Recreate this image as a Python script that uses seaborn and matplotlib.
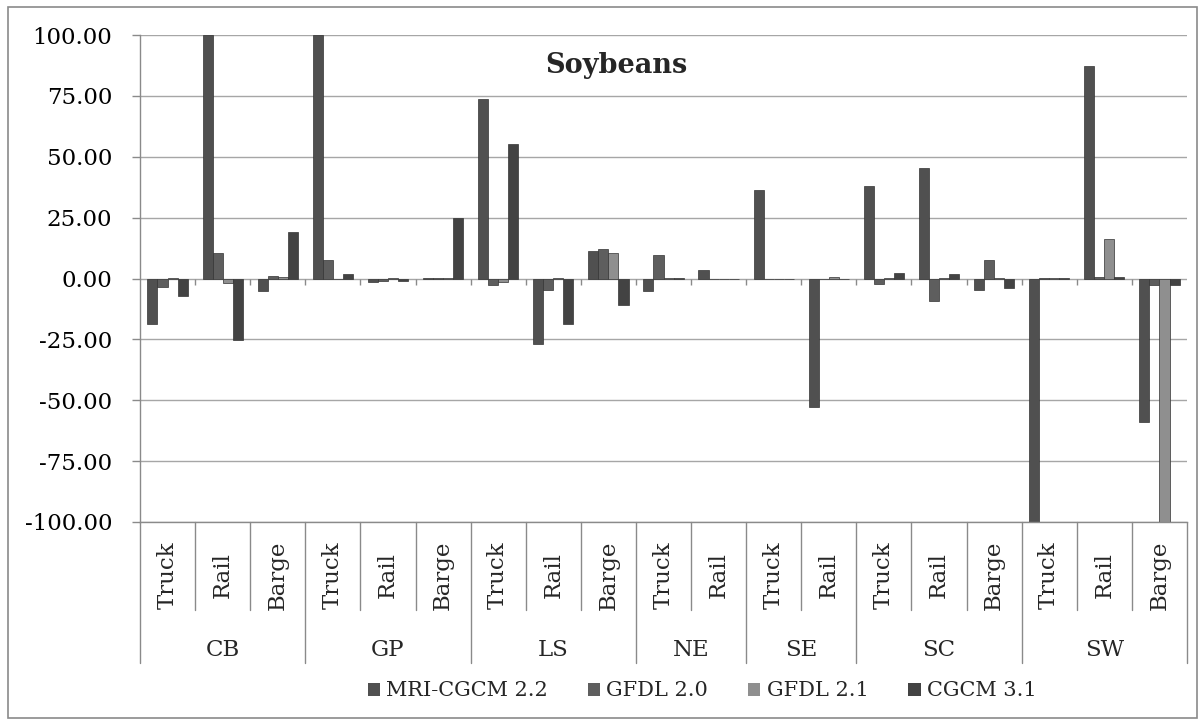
import numpy as np
import pandas as pd
import matplotlib.pyplot as plt
import matplotlib.transforms as mtransforms
from matplotlib.patches import Rectangle
from matplotlib.ticker import FuncFormatter
import seaborn as sns

# categories (two-level axis: region / mode)
region = ['CB', 'CB', 'CB', 'GP', 'GP', 'GP', 'LS', 'LS', 'LS', 'NE', 'NE',
          'SE', 'SE', 'SC', 'SC', 'SC', 'SW', 'SW', 'SW']
mode = ['Truck', 'Rail', 'Barge', 'Truck', 'Rail', 'Barge', 'Truck', 'Rail', 'Barge',
        'Truck', 'Rail', 'Truck', 'Rail', 'Truck', 'Rail', 'Barge', 'Truck', 'Rail', 'Barge']

# series values
mri = [-18.5, 100.0, -5.0, 100.0, -1.3, 0.3, 73.8, -26.8, 11.2, -5.3, 3.5,
       36.3, -52.8, 38.1, 45.2, -4.7, -100.0, 87.1, -58.8]
gfdl20 = [-3.5, 10.5, 1.0, 7.6, -1.2, 0.3, -2.5, -4.6, 12.0, 9.7, -0.3,
          -0.2, 0.0, -2.1, -9.2, 7.8, 0.2, 0.5, -2.5]
gfdl21 = [0.3, -1.8, 0.8, -0.3, 0.3, 0.1, -1.4, 0.2, 10.5, 0.4, -0.3,
          -0.2, 0.6, 0.1, 0.2, 0.1, 0.1, 16.2, -100.0]
cgcm = [-7.0, -25.4, 19.0, 1.7, -1.2, 24.7, 55.4, -18.8, -11.0, 0.3, -0.3,
        -0.2, -0.3, 2.1, 1.7, -3.7, 0.2, 0.5, -2.5]

series_names = ['MRI-CGCM 2.2', 'GFDL 2.0', 'GFDL 2.1', 'CGCM 3.1']
series_colors = ['#505050', '#5e5e5e', '#8f8f8f', '#434343']
yticks = [-100, -75, -50, -25, 0, 25, 50, 75, 100]

keys = [r + '-' + m for r, m in zip(region, mode)]
df = pd.DataFrame({
    'key': keys * 4,
    'model': np.repeat(series_names, len(keys)),
    'value': mri + gfdl20 + gfdl21 + cgcm,
})

sns.set_theme(style='white')
plt.rcParams['font.family'] = ['DejaVu Serif']
FS = 16.5
LINE = '#8a8a8a'

fig = plt.figure(figsize=(12.03, 7.25), dpi=100)
ax = fig.add_axes([140 / 1203, 1 - 522 / 725, 1047 / 1203, 487 / 725])

sns.barplot(data=df, x='key', y='value', hue='model', order=keys,
            hue_order=series_names, palette=series_colors, width=0.73,
            saturation=1, errorbar=None, edgecolor='#333333', linewidth=0.5,
            ax=ax, legend=False)

ax.set_ylim(-100, 100)
ax.set_xlim(-0.5, len(keys) - 0.5)
ax.set_yticks(yticks)
ax.yaxis.set_major_formatter(FuncFormatter(lambda v, p: f'{v:.2f}'))
ax.yaxis.grid(True, color='#a6a6a6', lw=1)
ax.set_axisbelow(True)
ax.set_xticks([])
ax.set_xlabel('')
ax.set_ylabel('')
ax.tick_params(axis='y', left=True, length=6, width=1, color=LINE, pad=14,
               labelsize=FS, labelcolor='black')
for s in ['top', 'right']:
    ax.spines[s].set_visible(False)
for s in ['left', 'bottom']:
    ax.spines[s].set_color(LINE)
    ax.spines[s].set_linewidth(1)

# small ticks on the zero line between categories
bounds = np.arange(len(keys) + 1) - 0.5
ax.vlines(bounds[1:-1], 0, -2.5, color=LINE, lw=1)

# two-level category axis below the plot
trans = mtransforms.blended_transform_factory(ax.transData, ax.transAxes)
for i, b in enumerate(bounds):
    long = i == 0 or i == len(keys) or region[i - 1] != region[i]
    ax.plot([b, b], [0, -0.2895 if long else -0.1807], transform=trans,
            clip_on=False, color=LINE, lw=1)
for i, m in enumerate(mode):
    ax.text(i, -0.1088, m, transform=trans, rotation=90, ha='center',
            va='center', fontsize=FS)
for r in dict.fromkeys(region):
    idx = [i for i, rr in enumerate(region) if rr == r]
    ax.text(np.mean(idx), -0.2630, r, transform=trans, ha='center',
            va='center', fontsize=FS)

ax.text(0.455, 0.938, 'Soybeans', transform=ax.transAxes, ha='center',
        va='center', fontsize=19.5, fontweight='bold')

handles = [Rectangle((0, 0), 1, 1, fc=c, ec='none') for c in series_colors]
fig.legend(handles, series_names, loc='center',
           bbox_to_anchor=(702 / 1203, 1 - 691 / 725), ncol=4, frameon=False,
           fontsize=15, handlelength=0.6, handleheight=0.6, handletextpad=0.3,
           columnspacing=1.9)

# chart area border
fig.patches.append(Rectangle((8 / 1203, 7 / 725), 1189 / 1203, 711 / 725,
                             transform=fig.transFigure, fill=False,
                             ec=LINE, lw=1.2))

fig.savefig('out.png', dpi=100)
